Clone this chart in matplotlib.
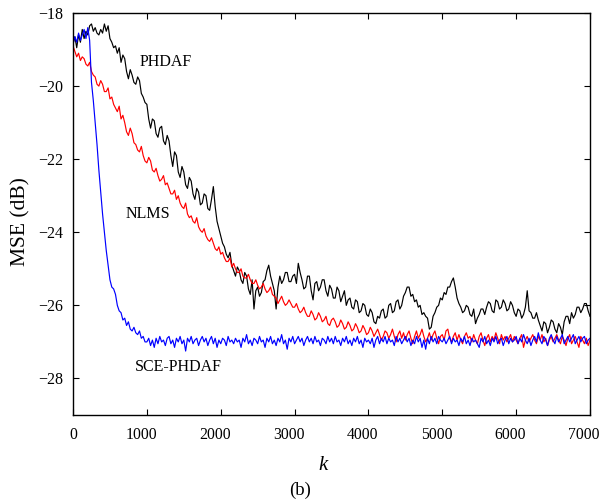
import numpy as np
import matplotlib
matplotlib.use("Agg")
import matplotlib.pyplot as plt

plt.rcParams['font.family'] = ['Liberation Serif', 'DejaVu Serif']

k_step = 25
k_values = list(range(0, 7001, k_step))

phdaf = [
    -18.85, -18.65, -18.95, -18.6, -18.8, -18.45, -18.7, -18.5, -18.6, -18.35,
    -18.3, -18.5, -18.4, -18.55, -18.6, -18.45, -18.55, -18.3, -18.5, -18.35,
    -18.7, -18.8, -18.95, -18.9, -19.1, -18.95, -19.35, -19.15, -19.25, -19.6,
    -19.8, -19.55, -19.7, -19.9, -19.95, -19.75, -19.85, -20.2, -20.3, -20.45,
    -20.5, -20.9, -21.15, -20.9, -20.95, -21.3, -21.4, -21.15, -21.1, -21.5,
    -21.6, -21.35, -21.5, -21.9, -22.2, -21.8, -21.9, -22.35, -22.5, -22.2,
    -22.35, -22.7, -22.8, -22.5, -22.6, -22.95, -23.1, -22.8, -22.9, -23.25,
    -23.2, -22.95, -23.0, -23.35, -23.4, -23.1, -22.75, -23.3, -23.7, -23.9,
    -24.1, -24.3, -24.4, -24.6, -24.7, -24.55, -24.9, -25.05, -25.2, -24.95,
    -25.05, -25.3, -25.4, -25.1, -25.2, -25.55, -25.7, -25.3, -26.1, -25.6,
    -25.5, -25.75, -25.65, -25.35, -25.3, -25.05, -24.9, -25.2, -25.4, -25.6,
    -26.1, -25.5, -25.2, -25.4, -25.3, -25.1, -25.1, -25.35, -25.35, -25.2,
    -25.15, -25.4, -24.85, -25.1, -25.3, -25.55, -25.5, -25.2, -25.2, -25.6,
    -25.85, -25.4, -25.35, -25.6, -25.5, -25.3, -25.3, -25.6, -25.75, -25.45,
    -25.55, -25.8, -25.8, -25.5, -25.6, -25.9, -25.75, -25.6, -26.0, -25.85,
    -25.8, -26.05, -26.1, -25.85, -25.9, -26.2, -26.15, -25.95, -26.0, -26.25,
    -26.3, -26.1, -26.2, -26.45, -26.5, -26.3, -26.35, -26.15, -26.1, -26.35,
    -26.3, -26.0, -25.95, -26.2, -26.15, -25.9, -25.85, -26.1, -26.0, -25.75,
    -25.65, -25.5, -25.5, -25.75, -25.7, -25.9, -25.85, -26.05, -26.0, -26.25,
    -26.2, -26.3, -26.35, -26.65, -26.6, -26.3, -26.2, -26.05, -26.0, -25.8,
    -25.85, -25.65, -25.7, -25.5, -25.5, -25.35, -25.25, -25.5, -25.8, -25.95,
    -26.05, -26.2, -26.15, -26.0, -26.05, -26.25, -26.3, -26.1, -26.5, -26.35,
    -26.25, -26.1, -26.1, -26.25, -26.05, -25.9, -25.95, -26.15, -26.2, -25.85,
    -25.9, -26.1, -26.05, -25.85, -25.95, -26.15, -26.1, -25.9, -26.0, -26.2,
    -26.3, -26.1, -26.15, -26.35, -26.25, -26.05, -25.6, -26.15, -26.2, -26.35,
    -26.35, -26.2, -26.4, -26.55, -26.7, -26.45, -26.5, -26.75, -26.6, -26.4,
    -26.45, -26.65, -26.75, -26.5, -26.6, -26.8, -26.45, -26.3, -26.3, -26.5,
    -26.2, -26.35, -26.25, -26.05, -26.05, -26.2, -26.1, -25.95, -25.95, -26.15,
    -26.3,
]

nlms = [
    -18.9, -19.05, -19.2, -19.1, -19.3, -19.2, -19.25, -19.4, -19.45, -19.35,
    -19.6, -19.7, -19.75, -19.95, -20.0, -19.85, -19.95, -20.15, -20.15, -20.05,
    -20.35, -20.3, -20.5, -20.6, -20.7, -20.55, -20.9, -20.8, -21.0, -21.25,
    -21.35, -21.15, -21.3, -21.55, -21.6, -21.75, -21.8, -21.65, -21.9, -22.05,
    -22.1, -21.95, -22.05, -22.3, -22.35, -22.25, -22.45, -22.6, -22.55, -22.45,
    -22.7, -22.65, -22.8, -22.95, -22.95, -22.85, -23.1, -23.0, -23.2, -23.3,
    -23.35, -23.2, -23.5, -23.6, -23.55, -23.7, -23.75, -23.6, -23.85, -23.95,
    -24.0, -23.9, -24.1, -24.2, -24.25, -24.15, -24.3, -24.45, -24.5, -24.4,
    -24.6, -24.55, -24.7, -24.8, -24.8, -24.7, -24.95, -24.85, -25.0, -25.1,
    -25.1, -25.0, -25.2, -25.25, -25.25, -25.15, -25.3, -25.4, -25.4, -25.3,
    -25.45, -25.55, -25.5, -25.4, -25.55, -25.65, -25.6, -25.5, -25.7, -25.75,
    -25.8, -25.95, -25.85, -25.75, -25.9, -26.0, -25.95, -25.85, -25.95, -26.05,
    -26.05, -25.95, -26.1, -26.2, -26.15, -26.05, -26.2, -26.3, -26.3, -26.15,
    -26.25, -26.4, -26.35, -26.2, -26.3, -26.45, -26.4, -26.3, -26.5, -26.55,
    -26.4, -26.35, -26.45, -26.6, -26.55, -26.4, -26.5, -26.65, -26.6, -26.45,
    -26.55, -26.7, -26.65, -26.5, -26.6, -26.75, -26.7, -26.55, -26.65, -26.8,
    -26.75, -26.6, -26.7, -26.85, -26.75, -26.65, -26.8, -26.95, -26.85, -26.7,
    -26.75, -26.9, -26.8, -26.65, -26.85, -27.0, -26.8, -26.7, -26.9, -26.75,
    -26.95, -26.8, -26.7, -26.9, -27.05, -26.85, -26.7, -26.9, -26.8, -26.65,
    -26.85, -27.0, -26.9, -26.75, -26.95, -26.8, -26.7, -26.9, -27.05, -26.85,
    -26.8, -26.95, -26.7, -26.65, -26.9, -27.0, -26.85, -26.75, -26.95, -26.8,
    -26.95, -27.05, -26.85, -26.75, -26.9, -26.85, -27.0, -26.8, -26.95, -27.05,
    -26.85, -26.75, -26.95, -27.1, -26.9, -26.8, -27.0, -26.85, -26.95, -26.75,
    -26.9, -27.05, -26.8, -26.95, -26.85, -27.0, -26.9, -26.8, -27.0, -26.85,
    -26.95, -27.05, -26.9, -26.8, -27.15, -26.95, -26.85, -27.0, -26.9, -26.8,
    -26.95, -27.05, -26.85, -26.95, -26.8, -27.0, -26.9, -27.1, -26.95, -26.85,
    -27.0, -26.9, -26.8, -26.95, -27.05, -26.85, -26.95, -27.1, -26.9, -26.8,
    -27.05, -26.95, -26.85, -27.0, -27.15, -26.85, -26.95, -27.05, -26.9, -27.1,
    -26.95,
]

sce_phdaf = [
    -18.85, -18.65, -18.8, -18.55, -18.75, -18.6, -18.45, -18.7, -18.4, -18.75,
    -19.9, -20.4, -21.0, -21.6, -22.3, -22.9, -23.5, -24.0, -24.5, -24.9,
    -25.3, -25.5, -25.55, -25.7, -26.0, -26.15, -26.2, -26.4, -26.35, -26.55,
    -26.45, -26.65, -26.7, -26.6, -26.75, -26.8, -26.7, -26.9, -26.85, -27.0,
    -27.0, -26.9, -27.1, -26.95, -27.15, -26.9, -27.05, -26.85, -27.0, -26.95,
    -27.1, -26.9, -26.85, -27.05, -26.95, -27.15, -26.9, -27.0, -26.85, -27.05,
    -26.95, -27.25, -26.9, -27.0, -26.85, -27.05, -26.95, -26.9, -27.1, -26.95,
    -26.85, -27.0, -26.9, -27.1, -26.95, -26.85, -27.05, -26.9, -27.15, -26.95,
    -27.05, -26.9, -26.95, -27.1, -26.85, -27.0, -26.95, -27.05, -26.9, -27.0,
    -26.95, -27.15, -26.9, -27.0, -26.8, -27.05, -26.95, -27.1, -26.9, -26.95,
    -27.05, -26.85, -27.0, -26.95, -27.15, -26.9, -27.0, -26.85, -27.05, -26.95,
    -27.1, -26.9, -27.0, -26.8, -27.05, -26.95, -27.2, -26.9, -27.0, -26.85,
    -27.05, -26.95, -26.85, -27.0, -26.9, -27.1, -26.95, -26.85, -27.0, -26.9,
    -27.05, -26.85, -27.0, -26.95, -27.1, -26.9, -26.95, -27.05, -26.85, -27.0,
    -26.9, -27.05, -26.85, -27.0, -26.95, -27.1, -26.9, -27.0, -26.85, -27.05,
    -26.95, -27.1, -26.9, -27.0, -26.85, -27.05, -26.95, -27.15, -26.9, -27.0,
    -26.95, -27.05, -26.9, -27.15, -26.95, -26.85, -27.05, -26.9, -27.0, -26.85,
    -27.05, -26.9, -27.0, -26.95, -27.1, -26.85, -27.0, -26.9, -27.05, -26.95,
    -26.85, -27.0, -26.9, -27.1, -26.95, -27.05, -26.85, -27.0, -26.9, -27.15,
    -26.95, -27.2, -26.9, -27.05, -26.85, -27.0, -26.9, -27.05, -26.85, -26.95,
    -27.0, -26.9, -27.05, -26.95, -26.85, -27.05, -26.9, -27.0, -26.95, -27.1,
    -26.9, -27.0, -26.85, -27.05, -26.95, -27.1, -26.9, -27.0, -26.95, -27.05,
    -27.15, -26.9, -27.0, -26.85, -27.05, -26.95, -27.1, -26.9, -27.0, -26.85,
    -27.05, -26.95, -26.9, -27.1, -26.95, -26.85, -27.05, -26.9, -27.0, -26.95,
    -26.85, -27.05, -26.9, -27.0, -26.8, -26.95, -27.05, -26.9, -27.1, -26.95,
    -26.85, -27.0, -26.75, -26.95, -27.05, -26.85, -26.95, -27.1, -26.9, -26.8,
    -26.95, -27.05, -26.85, -27.0, -26.9, -26.8, -27.05, -26.95, -26.85, -27.0,
    -26.9, -26.8, -27.05, -26.95, -26.85, -27.0, -26.9, -26.85, -27.05, -26.95,
    -26.9,
]

x_ticks = [0, 1000, 2000, 3000, 4000, 5000, 6000, 7000]
y_ticks = [-28, -26, -24, -22, -20, -18]

fig = plt.figure(figsize=(6.01, 5.0), dpi=100)
ax = fig.add_axes([0.1215, 0.17, 0.8602, 0.804])

ax.plot(k_values, phdaf, color='black', lw=0.85)
ax.plot(k_values, nlms, color='red', lw=0.85)
ax.plot(k_values, sce_phdaf, color='blue', lw=0.85)

ax.set_xlim(0, 7000)
ax.set_ylim(-29, -18)
ax.set_xticks(x_ticks)
ax.set_yticks(y_ticks)
ax.set_xticklabels([''] * len(x_ticks))
ax.set_yticklabels(['\u2212%d' % abs(v) for v in y_ticks])
ax.tick_params(direction='in', top=True, right=True, length=4, width=0.8,
               labelsize=11.5, pad=7)
for s in ax.spines.values():
    s.set_linewidth(1.0)

# x tick labels (drawn slightly left of the ticks, as in the reference)
for v in x_ticks:
    dx = 0 if v == 0 else -4.2
    ax.annotate(str(v), xy=(v, 0), xycoords=('data', 'axes fraction'),
                xytext=(dx, -8.3), textcoords='offset points',
                ha='center', va='top', fontsize=11.3, annotation_clip=False)

ax.text(1260, -19.35, 'PHDAF', fontsize=11.5, ha='center', va='center')
ax.text(1010, -23.5, 'NLMS', fontsize=11.5, ha='center', va='center')
ax.text(1430, -27.7, 'SCE-PHDAF', fontsize=11.5, ha='center', va='center')

ax.set_ylabel('MSE (dB)', fontsize=15.5)
ax.yaxis.set_label_coords(-0.082, 0.48)
fig.text(323 / 601, 0.07, 'k', fontsize=15, style='italic', ha='center', va='center')
fig.text(0.5, 0.02, '(b)', fontsize=13.5, ha='center', va='center')

fig.savefig('out.png', dpi=100)
